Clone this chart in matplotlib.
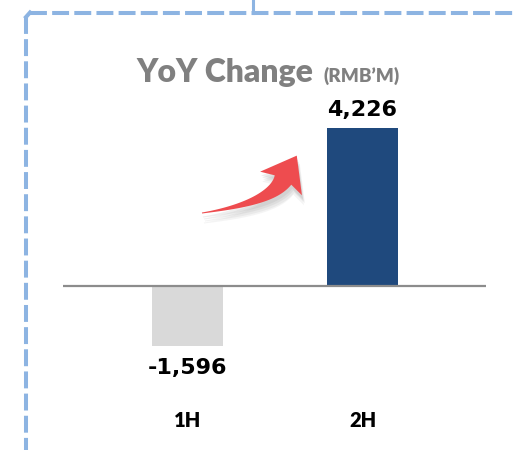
import matplotlib
matplotlib.use("Agg")
import numpy as np
import matplotlib.pyplot as plt
from matplotlib.lines import Line2D
from matplotlib.patches import Polygon

# data
periods = ["1H", "2H"]
yoy_change = [-1596, 4226]
value_labels = ["-1,596", "4,226"]
bar_colors = ["#D9D9D9", "#1F497D"]

W, H = 514, 450
fig = plt.figure(figsize=(W / 100, H / 100), dpi=100)

# axes placed so that zero line sits at y=286px, bars 71px wide
ax_l, ax_r = 63, 486
ax_top, ax_bot = 128, 345.7
ax = fig.add_axes([ax_l / W, (H - ax_bot) / H, (ax_r - ax_l) / W, (ax_bot - ax_top) / H])
ax.set_xlim(-0.716, 1.708)
ax.set_ylim(-1596, 4226)

x = list(range(len(periods)))
ax.bar(x, yoy_change, width=0.407, color=bar_colors, zorder=2)
ax.axhline(0, color="#8C8C8C", lw=1.6, zorder=3)

for i, (v, lab) in enumerate(zip(yoy_change, value_labels)):
    off = 13 if v > 0 else -16
    ax.annotate(lab, (i, v), xytext=(0, off), textcoords="offset points",
                ha="center", va="center", fontsize=16, fontweight="bold",
                family="DejaVu Sans", color="black")
    ax.annotate(periods[i], (i, 0), xycoords=("data", "axes fraction"),
                xytext=(0, -54), textcoords="offset points",
                ha="center", va="center", fontsize=14.5, fontweight="heavy",
                family="Lato", color="black")

ax.axis("off")

# title
fig.text(313 / W, (H - 82) / H, "YoY Change", ha="right", va="baseline",
         fontsize=23, fontweight="heavy", family="Lato", color="#808080")
fig.text(323 / W, (H - 82) / H, "(RMB\u2019M)", ha="left", va="baseline",
         fontsize=13.5, fontweight="heavy", family="Lato", color="#808080")


# tapered curved arrow (pixel coords, y up)
def arrow_poly(p0, c, p1, w_end, head_w, head_len, n=60):
    p0, c, p1 = map(np.array, (p0, c, p1))
    t = np.linspace(0, 1, n)[:, None]
    pts = (1 - t) ** 2 * p0 + 2 * (1 - t) * t * c + t ** 2 * p1
    d = 2 * (1 - t) * (c - p0) + 2 * t * (p1 - c)
    d = d / np.linalg.norm(d, axis=1)[:, None]
    nrm = np.column_stack([-d[:, 1], d[:, 0]])
    hw = (0.5 + w_end * t[:, 0] ** 1.3 / 2)[:, None]
    left = pts + nrm * hw
    right = pts - nrm * hw
    de, ne = d[-1], nrm[-1]
    a = p1 + ne * head_w / 2 - de * 4
    b = p1 - ne * head_w / 2 - de * 4
    tip = p1 + de * head_len
    return np.vstack([left, a, tip, b, right[::-1]])


def to_fig(poly):
    return np.column_stack([poly[:, 0] / W, poly[:, 1] / H])


shape = arrow_poly((202, H - 213), (270, H - 203), (283, H - 180), 18, 48, 28)
for dx, dy, al in [(2, -10, 0.10), (3, -8, 0.12), (2, -6, 0.14), (1, -4, 0.16)]:
    fig.add_artist(Polygon(to_fig(shape + [dx, dy]), closed=True, transform=fig.transFigure,
                           facecolor="#9A9A9A", edgecolor="none", alpha=al))
fig.add_artist(Polygon(to_fig(shape), closed=True, transform=fig.transFigure,
                       facecolor="#EE4C4F", edgecolor="none"))

# dashed frame
frame_kw = dict(color="#8DB4E2", lw=2.9, linestyle=(0, (4.2, 1.3)),
                transform=fig.transFigure, solid_capstyle="butt")
y_top = (H - 12.5) / H
fig.add_artist(Line2D([30 / W, 1.0], [y_top, y_top], **frame_kw))
fig.add_artist(Line2D([26 / W, 26 / W], [(H - 17) / H, 0], **frame_kw))
fig.add_artist(Line2D([26 / W, 30 / W], [(H - 17) / H, y_top], color="#8DB4E2", lw=2.9,
                      transform=fig.transFigure))
fig.add_artist(Line2D([253 / W, 253 / W], [1.0, y_top], color="#8DB4E2", lw=2.2,
                      transform=fig.transFigure))

fig.savefig("out.png", dpi=100)
